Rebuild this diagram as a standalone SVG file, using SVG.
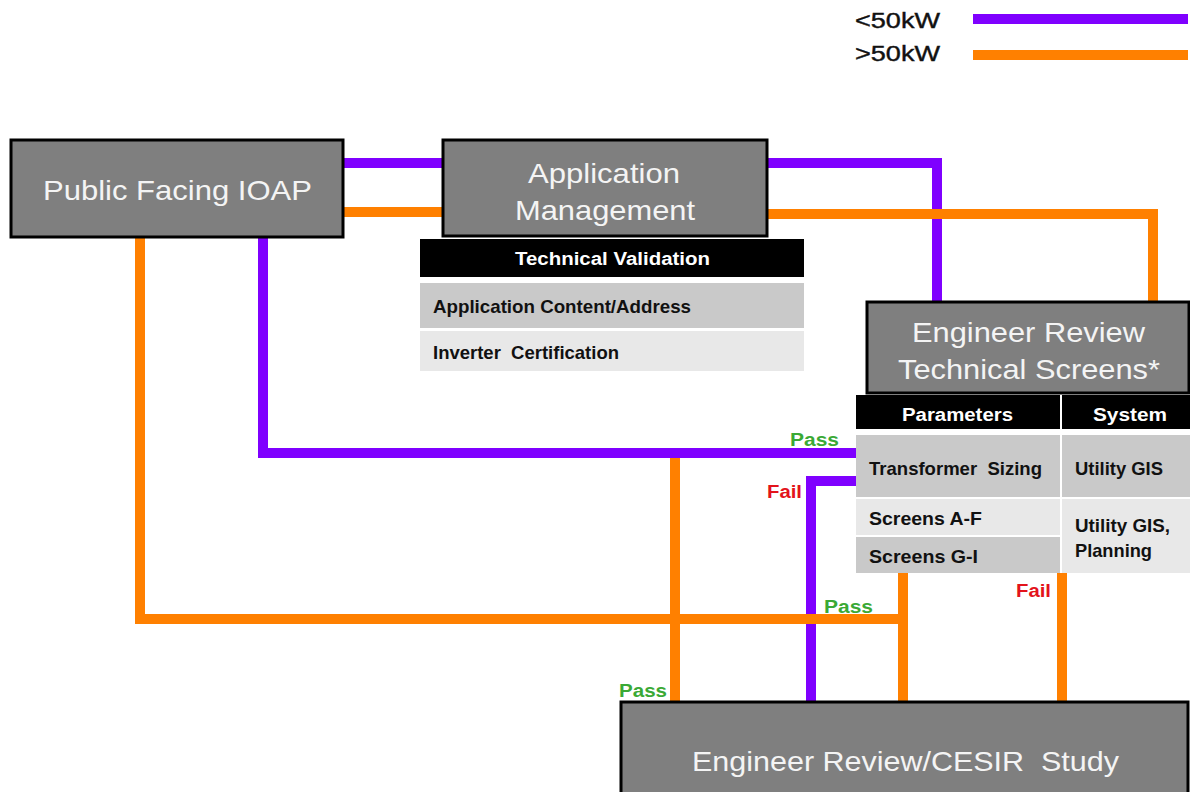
<svg xmlns="http://www.w3.org/2000/svg" width="1190" height="792" viewBox="0 0 1190 792">
  <style>
    .box { fill: #7f7f7f; stroke: #000; stroke-width: 3; }
    .title { font-family: "Liberation Sans", Arial, sans-serif; font-size: 28px; fill: #f4f4f4; }
    .hdr { fill: #000; }
    .cellA { fill: #c9c9c9; }
    .cellB { fill: #e8e8e8; }
    .htxt { font-family: "Liberation Sans", Arial, sans-serif; font-size: 18px; font-weight: bold; fill: #fff; }
    .ctxt { font-family: "Liberation Sans", Arial, sans-serif; font-size: 19px; font-weight: bold; fill: #111; }
    .lt { fill: none; stroke-width: 10; stroke-linejoin: miter; stroke-linecap: butt; }
    .lo { stroke: #7f00ff; }
    .hi { stroke: #ff8000; }
    .pass { font-family: "Liberation Sans", Arial, sans-serif; font-size: 18px; font-weight: bold; fill: #3aa935; }
    .fail { font-family: "Liberation Sans", Arial, sans-serif; font-size: 18px; font-weight: bold; fill: #e3131b; }
    .legend { font-family: "Liberation Sans", Arial, sans-serif; font-size: 22px; fill: #111; stroke: #111; stroke-width: 0.4; }
  </style>

  <!-- legend -->
  <g id="legend">
    <text class="legend" x="855" y="28" textLength="85" lengthAdjust="spacingAndGlyphs">&lt;50kW</text>
    <path class="lt lo" d="M973,19 H1188"/>
    <text class="legend" x="855" y="61" textLength="85" lengthAdjust="spacingAndGlyphs">&gt;50kW</text>
    <path class="lt hi" d="M973,55 H1188"/>
  </g>

  <!-- routing lines: purple under 50kW, orange over 50kW -->
  <g id="connectors">
    <path class="lt lo" d="M343,163 H443"/>
    <path class="lt lo" d="M767,163 H937 V302"/>
    <path class="lt lo" d="M263,237 V453 H856"/>
    <path class="lt lo" d="M856,481 H811 V702"/>
    <path class="lt hi" d="M343,212 H443"/>
    <path class="lt hi" d="M767,214 H1153 V302"/>
    <path class="lt hi" d="M140,237 V619 H903"/>
    <path class="lt hi" d="M903,573 V702"/>
    <path class="lt hi" d="M675,458 V702"/>
    <path class="lt hi" d="M1062,573 V702"/>
    <text class="pass" x="790" y="446" textLength="49" lengthAdjust="spacingAndGlyphs">Pass</text>
    <text class="fail" x="767" y="498" textLength="35" lengthAdjust="spacingAndGlyphs">Fail</text>
    <text class="pass" x="824" y="613" textLength="49" lengthAdjust="spacingAndGlyphs">Pass</text>
    <text class="pass" x="619" y="697" textLength="48" lengthAdjust="spacingAndGlyphs">Pass</text>
    <text class="fail" x="1016" y="597" textLength="35" lengthAdjust="spacingAndGlyphs">Fail</text>
  </g>

  <g id="public-facing-ioap">
    <rect class="box" x="11" y="140" width="332" height="97"/>
    <text class="title" x="43" y="200" textLength="269" lengthAdjust="spacingAndGlyphs">Public Facing IOAP</text>
  </g>

  <g id="application-management">
    <rect class="box" x="443" y="140" width="324" height="96"/>
    <text class="title" x="528" y="183" textLength="152" lengthAdjust="spacingAndGlyphs">Application</text>
    <text class="title" x="515" y="220" textLength="180" lengthAdjust="spacingAndGlyphs">Management</text>
  </g>

  <g id="technical-validation">
    <rect class="hdr" x="420" y="239" width="384" height="38"/>
    <text class="htxt" x="515" y="265" textLength="195" lengthAdjust="spacingAndGlyphs">Technical Validation</text>
    <rect class="cellA" x="420" y="283" width="384" height="45"/>
    <text class="ctxt" x="433" y="313" textLength="258" lengthAdjust="spacingAndGlyphs">Application Content/Address</text>
    <rect class="cellB" x="420" y="331" width="384" height="40"/>
    <text class="ctxt" x="433" y="359" textLength="186" lengthAdjust="spacingAndGlyphs" xml:space="preserve">Inverter  Certification</text>
  </g>

  <g id="engineer-review-screens">
    <rect class="box" x="867" y="302" width="322" height="91"/>
    <text class="title" x="912" y="342" textLength="233" lengthAdjust="spacingAndGlyphs">Engineer Review</text>
    <text class="title" x="898" y="379" textLength="262" lengthAdjust="spacingAndGlyphs">Technical Screens*</text>
  </g>

  <g id="screens-table">
    <rect class="hdr" x="856" y="395" width="204" height="34"/>
    <rect class="hdr" x="1062" y="395" width="128" height="34"/>
    <text class="htxt" x="902" y="421" textLength="111" lengthAdjust="spacingAndGlyphs">Parameters</text>
    <text class="htxt" x="1093" y="421" textLength="74" lengthAdjust="spacingAndGlyphs">System</text>
    <rect class="cellA" x="856" y="435" width="204" height="62"/>
    <rect class="cellA" x="1062" y="435" width="128" height="62"/>
    <text class="ctxt" x="869" y="475" textLength="173" lengthAdjust="spacingAndGlyphs" xml:space="preserve">Transformer  Sizing</text>
    <text class="ctxt" x="1075" y="475" textLength="88" lengthAdjust="spacingAndGlyphs">Utility GIS</text>
    <rect class="cellB" x="856" y="499" width="204" height="36"/>
    <text class="ctxt" x="869" y="525" textLength="113" lengthAdjust="spacingAndGlyphs">Screens A-F</text>
    <rect class="cellA" x="856" y="537" width="204" height="36"/>
    <text class="ctxt" x="869" y="563" textLength="109" lengthAdjust="spacingAndGlyphs">Screens G-I</text>
    <rect class="cellB" x="1062" y="499" width="128" height="74"/>
    <text class="ctxt" x="1075" y="532" textLength="95" lengthAdjust="spacingAndGlyphs">Utility GIS,</text>
    <text class="ctxt" x="1075" y="557" textLength="77" lengthAdjust="spacingAndGlyphs">Planning</text>
  </g>

  <g id="cesir-study">
    <rect class="box" x="621" y="702" width="567" height="100"/>
    <text class="title" x="692" y="771" textLength="427" lengthAdjust="spacingAndGlyphs" xml:space="preserve">Engineer Review/CESIR  Study</text>
  </g>
</svg>
